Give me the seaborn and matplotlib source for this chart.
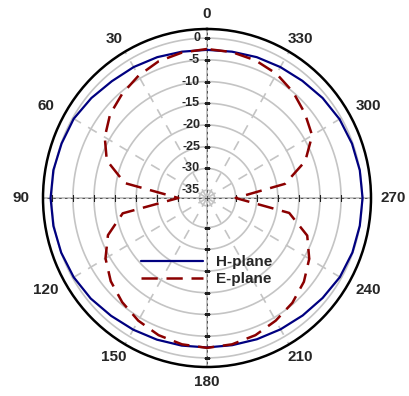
import numpy as np
import matplotlib
matplotlib.use("Agg")
import matplotlib.pyplot as plt
import seaborn as sns

# angles in degrees (0 at top, counter-clockwise)
angles = list(range(0, 361, 10))

# normalised gain in dB
h_plane = [-2.7, -2.6, -2.3, -2.0, -1.7, -1.0, -0.3, -0.1, 0.2, 0.3,
           0.2, 0.0, -0.3, -0.8, -1.4, -1.8, -2.1, -2.3, -2.4,
           -2.4, -2.2, -1.9, -1.5, -1.0, -0.4, -0.1, 0.0, 0.1,
           0.0, -0.2, -0.5, -1.0, -1.6, -2.0, -2.3, -2.6, -2.7]
e_plane = [-2.5, -2.8, -3.3, -4.3, -5.5, -6.8, -8.8, -11.5, -17.0, -30.0,
           -16.5, -11.8, -9.0, -7.0, -5.5, -4.2, -3.2, -2.6, -2.3,
           -2.6, -3.2, -4.2, -5.3, -6.8, -8.8, -11.5, -17.0, -30.0,
           -18.0, -12.0, -8.0, -6.5, -5.0, -3.8, -3.1, -2.7, -2.5]

r_ticks = [0, -5, -10, -15, -20, -25, -30, -35]
theta_labels = ["0", "30", "60", "90", "120", "150", "180", "210", "240", "270", "300", "330"]
r_min, r_max = -36.8, 2.1

sns.set_style("white")
plt.rcParams["font.family"] = ["Liberation Sans", "DejaVu Sans"]
plt.rcParams["font.weight"] = "bold"

fig = plt.figure(figsize=(4.10, 3.96), dpi=100)
ax = fig.add_axes([43 / 410, 29 / 396, 328 / 410, 338 / 396], projection="polar")
ax.set_aspect("auto")
ax.set_theta_zero_location("N")
ax.set_theta_direction(1)
ax.set_ylim(r_min, r_max)
ax.grid(False)

# grid circles
full = np.linspace(0, 2 * np.pi, 361)
for r in r_ticks:
    ax.plot(full, [r] * len(full), color="#c4c4c4", lw=1.2, zorder=1)

# radial gridlines
for a in range(0, 360, 30):
    t = np.radians(a)
    if a % 90 == 0:
        ax.plot([t, t], [r_min, r_max], color="#b8b8b8", lw=1.2, zorder=1)
        ax.plot([t, t], [r_min, r_max], color="#404040", lw=0.6, dashes=(3, 4), zorder=2)
        ax.plot([t] * (len(r_ticks) - 1), r_ticks[:-1], ls="none",
                marker="_" if a % 180 == 0 else "|",
                ms=4, mew=0.8, color="#202020", zorder=2)
    else:
        ax.plot([t, t], [r_min, r_max], color="#c4c4c4", lw=1.2, dashes=(6, 5), zorder=1)

th = np.radians(angles)
sns.lineplot(x=th, y=h_plane, ax=ax, sort=False, color="#000080", lw=1.6,
             label="H-plane", zorder=4)
sns.lineplot(x=th, y=e_plane, ax=ax, sort=False, color="#8b0000", lw=1.8,
             label="E-plane", zorder=5)
ax.lines[-1].set_dashes((6.5, 3.5))

ax.set_yticks([])
ax.set_xticks(np.radians(range(0, 360, 30)))
ax.set_xticklabels([])
ax.tick_params(axis="x", direction="inout", length=6, width=0.8, colors="black")
ax.spines["polar"].set_linewidth(1.8)
ax.spines["polar"].set_color("black")

for a, lab in zip(range(0, 360, 30), theta_labels):
    rad = np.radians(a)
    off = (-np.sin(rad) * 22 * 0.72, np.cos(rad) * 15 * 0.72)
    ax.annotate(lab, xy=(rad, r_max), xytext=off, textcoords="offset points",
                ha="center", va="center", fontsize=11, fontweight="bold",
                annotation_clip=False)

for r in r_ticks:
    ax.annotate(str(r), xy=(0, r), xytext=(-5, 0), textcoords="offset points",
                ha="right", va="center", fontsize=9, fontweight="bold", zorder=3)

leg = ax.legend(loc="center", bbox_to_anchor=(0.5, 0.285), frameon=False,
                handlelength=4.0, fontsize=11, labelspacing=0.2, handletextpad=0.9)
for t in leg.get_texts():
    t.set_fontweight("bold")

fig.savefig("out.png", dpi=100)
